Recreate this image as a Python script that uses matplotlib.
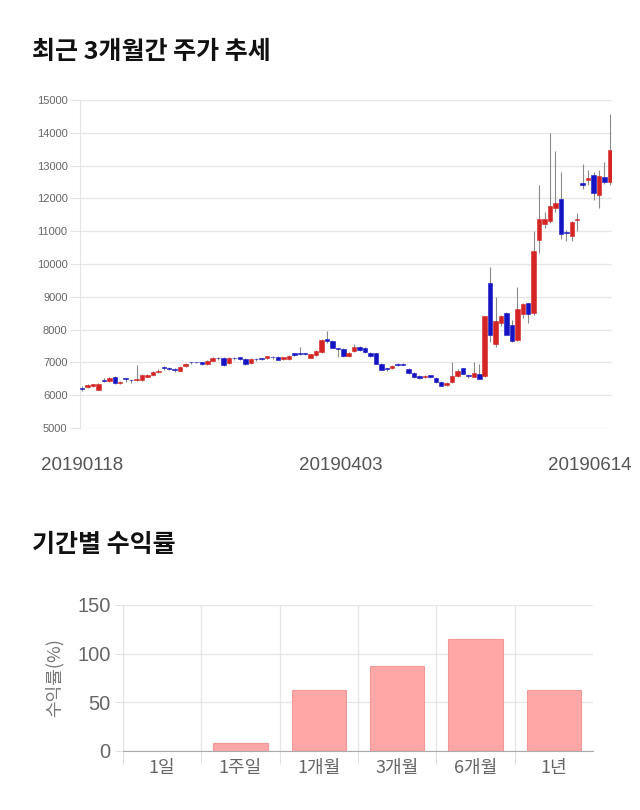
import matplotlib
matplotlib.use("Agg")
import matplotlib.pyplot as plt
import numpy as np

plt.rcParams['font.family'] = ['Noto Sans CJK KR', 'DejaVu Sans']

# daily candles, 2019-01-18 .. 2019-06-14
opens = [6200, 6250, 6280, 6170, 6470, 6430, 6570, 6370, 6500, 6460,
         6470, 6450, 6570, 6620, 6700, 6820, 6810, 6770, 6750, 6880,
         7000, 7000, 7000, 6950, 7050, 7120, 7120, 6980, 7120, 7150,
         7100, 6980, 7090, 7100, 7120, 7150, 7170, 7100, 7100, 7280,
         7250, 7250, 7140, 7220, 7320, 7720, 7650, 7420, 7420, 7200,
         7350, 7480, 7450, 7300, 7280, 6950, 6800, 6830, 6960, 6960,
         6800, 6680, 6600, 6540, 6610, 6520, 6410, 6300, 6400, 6600,
         6820, 6610, 6560, 6640, 6600, 9420, 7550, 8200, 8520, 8150,
         7680, 8480, 8800, 8500, 10720, 11230, 11300, 11700, 11970, 10970,
         10850, 11350, 12470, 12560, 12720, 12100, 12650, 12500]
closes = [6200, 6300, 6330, 6350, 6440, 6520, 6370, 6400, 6500, 6450,
          6480, 6620, 6620, 6700, 6750, 6820, 6810, 6760, 6850, 6950,
          7000, 7000, 6950, 7050, 7130, 7120, 6920, 7120, 7120, 7110,
          6940, 7100, 7090, 7100, 7180, 7150, 7080, 7150, 7200, 7230,
          7250, 7250, 7250, 7350, 7680, 7640, 7450, 7400, 7180, 7300,
          7480, 7370, 7330, 7200, 6960, 6780, 6800, 6900, 6930, 6930,
          6680, 6540, 6520, 6600, 6550, 6400, 6290, 6380, 6600, 6750,
          6660, 6580, 6680, 6500, 8400, 7850, 8260, 8400, 7850, 7650,
          8620, 8780, 8490, 10400, 11380, 11380, 11780, 11850, 10900, 10950,
          11270, 11370, 12400, 12620, 12150, 12680, 12500, 13470]
highs = [6280, 6330, 6350, 6380, 6520, 6550, 6600, 6420, 6520, 6500,
         6920, 6650, 6650, 6730, 6800, 6880, 6850, 6820, 6880, 6980,
         7020, 7020, 7020, 7070, 7150, 7150, 7150, 7150, 7150, 7170,
         7120, 7120, 7120, 7130, 7200, 7180, 7190, 7170, 7220, 7300,
         7480, 7280, 7270, 7370, 7700, 7960, 7670, 7430, 7440, 7330,
         7550, 7500, 7470, 7320, 7300, 6970, 6830, 6920, 6990, 6980,
         6820, 6700, 6620, 6620, 6630, 6540, 6430, 6400, 7020, 6800,
         6840, 6640, 7000, 6950, 8420, 9920, 9000, 8450, 8550, 8300,
         9300, 8820, 8820, 11000, 12420, 11600, 14000, 13450, 12800, 11030,
         11300, 11560, 13050, 12860, 12800, 12880, 13100, 14570]
lows = [6130, 6230, 6250, 6150, 6400, 6400, 6350, 6330, 6400, 6380,
        6440, 6430, 6550, 6600, 6680, 6760, 6770, 6700, 6730, 6850,
        6950, 6970, 6920, 6920, 7030, 7080, 6900, 6960, 7080, 7080,
        6920, 6960, 7050, 7060, 7100, 7110, 7060, 7080, 7080, 7210,
        7220, 7220, 7120, 7200, 7300, 7600, 7430, 7150, 7150, 7150,
        7330, 7350, 7300, 7150, 6940, 6760, 6740, 6800, 6900, 6920,
        6650, 6520, 6500, 6520, 6530, 6380, 6270, 6280, 6380, 6560,
        6640, 6530, 6540, 6480, 6550, 7620, 7480, 8100, 7830, 7620,
        7660, 8350, 8200, 8450, 10350, 11100, 11250, 11600, 10750, 10700,
        10700, 11000, 12300, 12400, 11950, 11700, 12450, 12400]
date_labels = ['20190118', '20190403', '20190614']

periods = ['1일', '1주일', '1개월', '3개월', '6개월', '1년']
returns = [0.0, 7.9, 62.3, 87.7, 115.0, 63.0]

fig = plt.figure(figsize=(6.4, 8.1), dpi=100)

fig.text(32 / 640, 1 - 52 / 810, '최근 3개월간 주가 추세', fontsize=18,
         fontweight='bold', va='center', ha='left', color='#111111')
fig.text(32 / 640, 1 - 545 / 810, '기간별 수익률', fontsize=18,
         fontweight='bold', va='center', ha='left', color='#111111')

# ---- candlestick chart ----
ax = fig.add_axes([80 / 640, 1 - 428 / 810, 532 / 640, 328 / 810])
o = np.array(opens)
c = np.array(closes)
x = np.arange(len(o))
up = c > o
col = np.where(up, '#d42424', '#1414c4')
bottom = np.minimum(o, c)
height = np.maximum(np.abs(c - o), 25)
ax.vlines(x, lows, highs, color='#8a8a8a', linewidth=0.8, zorder=2)
ax.bar(x, height, bottom=bottom, width=0.82, color=col, edgecolor=col,
       linewidth=0.4, zorder=3)
ax.set_xlim(-0.4, len(o) - 0.6)
ax.set_ylim(5000, 15000)
ax.set_yticks(range(5000, 15001, 1000))
ax.set_yticklabels([str(v) for v in range(5000, 15001, 1000)],
                   family=['Liberation Sans', 'DejaVu Sans'], fontsize=8,
                   color='#666666')
ax.set_xticks([0, 47.5, 93.4])
ax.set_xticklabels(date_labels, family=['Liberation Sans', 'DejaVu Sans'],
                   fontsize=13.5, color='#555555')
ax.tick_params(axis='x', length=0, pad=21)
ax.tick_params(axis='y', length=7, color='#e4e4e4', pad=2)
ax.grid(axis='y', color='#e6e6e6', linewidth=1)
ax.set_axisbelow(True)
for s in ['top', 'right', 'bottom']:
    ax.spines[s].set_visible(False)
ax.spines['left'].set_color('#e4e4e4')

# ---- return bar chart ----
bx = fig.add_axes([123 / 640, 1 - 751 / 810, 470 / 640, 146 / 810])
bx.bar(np.arange(len(periods)), returns, width=0.69, color='#ffa6a6',
       edgecolor='#ee9a9a', linewidth=0.8, zorder=3)
bx.set_xlim(-0.5, len(periods) - 0.5)
bx.set_ylim(0, 150)
bx.set_yticks([0, 50, 100, 150])
bx.set_yticklabels(['0', '50', '100', '150'], fontsize=14.5, color='#666666',
                   family=['Liberation Sans', 'DejaVu Sans'])
bx.set_xticks(np.arange(len(periods)) - 0.5)
bx.set_xticklabels([])
bx.set_xticks(np.arange(len(periods)), minor=True)
bx.set_xticklabels(periods, minor=True, fontsize=13, color='#666666')
bx.tick_params(axis='x', which='major', length=9, color='#e0e0e0')
bx.tick_params(axis='x', which='minor', length=0, pad=6)
bx.tick_params(axis='y', length=6, color='#e0e0e0', pad=3)
bx.grid(axis='both', which='major', color='#e6e6e6', linewidth=1)
bx.set_axisbelow(True)
for s in ['top', 'right', 'left']:
    bx.spines[s].set_visible(False)
bx.spines['bottom'].set_color('#aaaaaa')
bx.set_ylabel('수익률(%)', fontsize=13, color='#777777', labelpad=10)

fig.savefig('out.png', dpi=100)
